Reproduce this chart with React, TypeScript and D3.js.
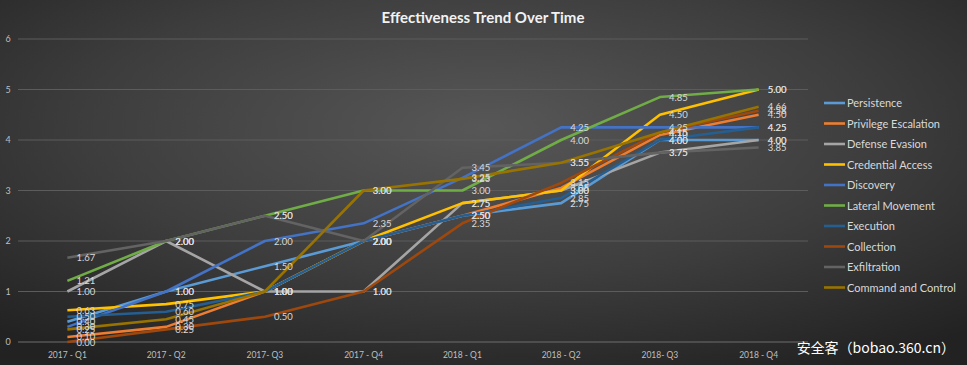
import { useEffect, useRef } from 'react';
import * as d3 from 'd3';

const quarters = ['2017 - Q1', '2017 - Q2', '2017- Q3', '2017 - Q4', '2018 - Q1', '2018 - Q2', '2018- Q3', '2018 - Q4'];

const persistence = [0.40, 1.00, 1.50, 2.00, 2.50, 2.75, 4.00, 4.00];
const privilegeEscalation = [0.10, 0.30, 1.00, 2.00, 2.50, 3.05, 4.10, 4.50];
const defenseEvasion = [1.00, 2.00, 1.00, 1.00, 2.75, 3.00, 3.75, 4.00];
const credentialAccess = [0.63, 0.75, 1.00, 2.00, 2.75, 3.00, 4.50, 5.00];
const discovery = [0.30, 1.00, 2.00, 2.35, 3.25, 4.25, 4.25, 4.25];
const lateralMovement = [1.21, 2.00, 2.50, 3.00, 3.00, 4.00, 4.85, 5.00];
const execution = [0.50, 0.60, 1.00, 2.00, 2.50, 2.85, 4.00, 4.25];
const collection = [0.00, 0.25, 0.50, 1.00, 2.35, 3.15, 4.15, 4.58];
const exfiltration = [1.67, 2.00, 2.50, 2.00, 3.45, 3.55, 3.75, 3.85];
const commandAndControl = [0.25, 0.45, 1.00, 3.00, 3.23, 3.55, 4.15, 4.66];

const yTicks = [0, 1, 2, 3, 4, 5, 6];

const series = [
  { name: 'Persistence', values: persistence, color: '#5b9bd5' },
  { name: 'Privilege Escalation', values: privilegeEscalation, color: '#ed7d31' },
  { name: 'Defense Evasion', values: defenseEvasion, color: '#a5a5a5' },
  { name: 'Credential Access', values: credentialAccess, color: '#ffc000' },
  { name: 'Discovery', values: discovery, color: '#4472c4' },
  { name: 'Lateral Movement', values: lateralMovement, color: '#70ad47' },
  { name: 'Execution', values: execution, color: '#255e91' },
  { name: 'Collection', values: collection, color: '#9e480e' },
  { name: 'Exfiltration', values: exfiltration, color: '#636363' },
  { name: 'Command and Control', values: commandAndControl, color: '#997300' },
];

const width = 967;
const height = 365;
const font = 'Lato, "Open Sans", sans-serif';

export default function App() {
  const svgRef = useRef<SVGSVGElement>(null);

  useEffect(() => {
    if (!svgRef.current) return;
    const svg = d3.select(svgRef.current);
    svg.selectAll('*').remove();
    svg.attr('width', width).attr('height', height);

    // background
    const defs = svg.append('defs');
    const grad = defs.append('radialGradient')
      .attr('id', 'bg')
      .attr('cx', '50%').attr('cy', '35%').attr('r', '75%');
    grad.append('stop').attr('offset', '0%').attr('stop-color', '#575757');
    grad.append('stop').attr('offset', '55%').attr('stop-color', '#3d3d3d');
    grad.append('stop').attr('offset', '100%').attr('stop-color', '#222222');
    svg.append('rect').attr('width', width).attr('height', height).attr('fill', 'url(#bg)');

    const x = d3.scaleBand().domain(quarters).range([18, 808]);
    const y = d3.scaleLinear().domain([0, 6]).range([342, 39]);
    const cx = (q: string) => (x(q) ?? 0) + x.bandwidth() / 2;

    // grid
    svg.append('g')
      .selectAll('line')
      .data(yTicks)
      .join('line')
      .attr('x1', 18).attr('x2', 808)
      .attr('y1', d => y(d)).attr('y2', d => y(d))
      .attr('stroke', d => (d === 0 ? '#6e6e6e' : '#5c5c5c'))
      .attr('stroke-width', 1);

    svg.append('g')
      .selectAll('text')
      .data(yTicks)
      .join('text')
      .attr('x', 8).attr('y', d => y(d) + 3)
      .attr('text-anchor', 'middle')
      .style('font-family', font).style('font-size', '9px')
      .style('fill', '#bfbfbf')
      .text(d => d);

    svg.append('g')
      .selectAll('text')
      .data(quarters)
      .join('text')
      .attr('x', d => cx(d)).attr('y', 358)
      .attr('text-anchor', 'middle')
      .style('font-family', font).style('font-size', '8.5px')
      .style('fill', '#bfbfbf')
      .text(d => d);

    // lines
    const line = d3.line<number>()
      .x((_, i) => cx(quarters[i]))
      .y(d => y(d));

    svg.append('g')
      .selectAll('path')
      .data(series)
      .join('path')
      .attr('d', d => line(d.values))
      .attr('fill', 'none')
      .attr('stroke', d => d.color)
      .attr('stroke-width', 2.6)
      .attr('stroke-linejoin', 'round');

    // data labels
    const labels = svg.append('g');
    series.forEach(s => {
      labels.selectAll(null)
        .data(s.values)
        .join('text')
        .attr('x', (_, i) => cx(quarters[i]) + 9)
        .attr('y', d => y(d) + 3.5)
        .style('font-family', font).style('font-size', '9.5px')
        .style('fill', '#d9d9d9')
        .text(d => d3.format('.2f')(d));
    });

    // title
    svg.append('text')
      .attr('x', 483).attr('y', 23)
      .attr('text-anchor', 'middle')
      .style('font-family', font).style('font-size', '15px').style('font-weight', 'bold')
      .style('fill', '#f2f2f2')
      .style('paint-order', 'stroke')
      .text('Effectiveness Trend Over Time');

    // legend
    const legend = svg.append('g')
      .selectAll('g')
      .data(series)
      .join('g')
      .attr('transform', (_, i) => `translate(824,${103 + i * 20.5})`);
    legend.append('line')
      .attr('x1', 0).attr('x2', 21)
      .attr('stroke', d => d.color).attr('stroke-width', 2.6);
    legend.append('text')
      .attr('x', 23).attr('y', 4)
      .style('font-family', font).style('font-size', '11px')
      .style('fill', '#d9d9d9')
      .text(d => d.name);

    // watermark
    svg.append('text')
      .attr('x', 955).attr('y', 353)
      .attr('text-anchor', 'end')
      .style('font-family', '"Noto Sans CJK SC", sans-serif').style('font-size', '14px')
      .style('fill', '#ffffff')
      .text('安全客（bobao.360.cn）');
  }, []);

  return (
    <div style={{ position: 'absolute', left: 0, top: 0 }}>
      <svg ref={svgRef}></svg>
    </div>
  );
}
